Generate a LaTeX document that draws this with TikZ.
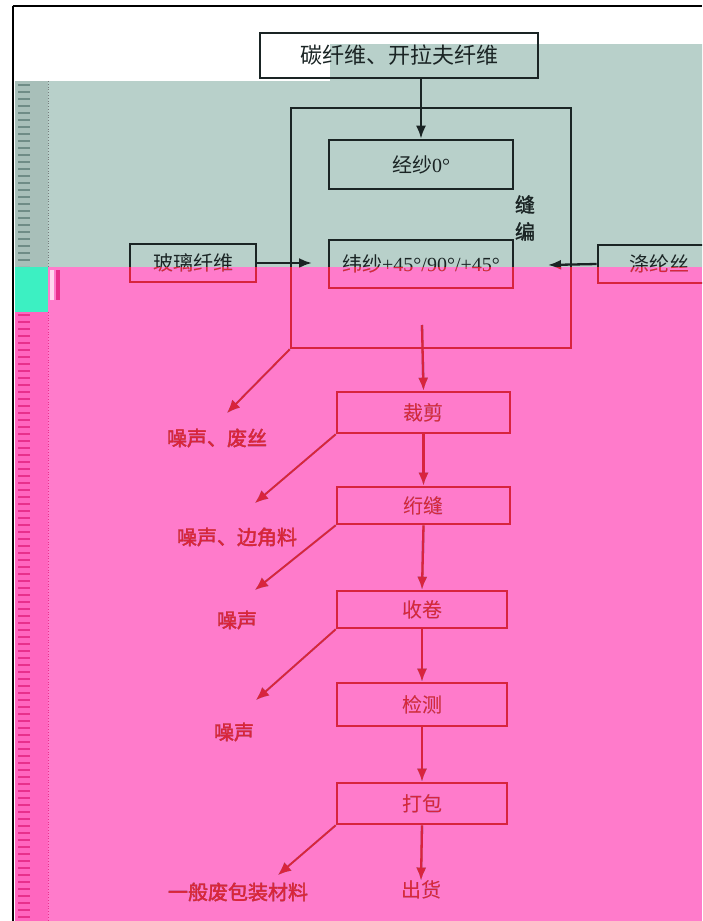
\documentclass[tikz,border=0pt]{standalone}
\usepackage{fontspec}
\setmainfont{Liberation Serif}
\newfontfamily\cjk{Noto Sans CJK SC}
\newfontfamily\cjkb[FakeBold=1.5]{Noto Sans CJK SC}
\usetikzlibrary{arrows.meta}
\definecolor{bggray}{HTML}{B8D0CA}
\definecolor{bgpink}{HTML}{FF7BCB}
\definecolor{ink}{HTML}{1A2424}
\definecolor{inkred}{HTML}{D8003E}
\definecolor{stripgray}{HTML}{A8BFB9}
\definecolor{strippink}{HTML}{FF66BF}
\definecolor{dashgray}{HTML}{6F8C86}
\definecolor{dashpink}{HTML}{E8308C}
\definecolor{glitchteal}{HTML}{3CF0C2}
\begin{document}
\begin{tikzpicture}[x=1pt,y=-1pt,
  txt/.style={font=\cjk\fontsize{20}{23}\selectfont, text=ink, inner sep=0pt},
  lbl/.style={font=\cjkb\fontsize{20}{23}\selectfont, text=ink, inner sep=0pt},
  box/.style={txt, draw=ink, line width=2.6pt},
  arr/.style={draw=ink, line width=2.3pt, -{Latex[length=13pt,width=10pt]}},
  darr/.style={draw=ink, line width=1.8pt, -{Latex[length=13pt,width=11pt]}}]
\useasboundingbox (0,0) rectangle (702,921);
\clip (0,0) rectangle (702,921);
% backgrounds
\fill[white] (0,0) rectangle (702,921);
\fill[bggray] (15,81) -- (330,81) -- (330,44) -- (702,44) -- (702,267) -- (15,267) -- cycle;
\fill[bgpink] (15,267) rectangle (702,921);
% boxes
\node[box, minimum width=278pt, minimum height=45pt, font=\cjk\fontsize{22}{24}\selectfont] (top) at (399,55.5) {碳纤维、开拉夫纤维};
\node[box, minimum width=280pt, minimum height=240pt] (big) at (431,228) {};
\node[box, minimum width=184pt, minimum height=49pt] (warp) at (421,164.5) {经纱\rmfamily 0°};
\node[box, minimum width=184pt, minimum height=48pt] (weft) at (421,264) {纬纱\rmfamily +45°/90°/+45°};
\node[box, minimum width=126pt, minimum height=38pt] (glass) at (193,263) {玻璃纤维};
\node[box, minimum width=122pt, minimum height=38pt] (poly) at (659,264) {涤纶丝};
\node[lbl, align=center, font=\cjkb\fontsize{20}{27}\selectfont] (stitch) at (525,218) {缝\\编};
\node[box, minimum width=173pt, minimum height=41pt] (cut) at (423.5,412.5) {裁剪};
\node[box, minimum width=173pt, minimum height=37pt] (quilt) at (423.5,505.5) {绗缝};
\node[box, minimum width=170pt, minimum height=37pt] (roll) at (422,609.5) {收卷};
\node[box, minimum width=170pt, minimum height=43pt] (insp) at (422,704.5) {检测};
\node[box, minimum width=170pt, minimum height=41pt] (pack) at (422,803.5) {打包};
% labels
\node[lbl] (w1) at (217,438) {噪声、废丝};
\node[lbl] (w2) at (237,537) {噪声、边角料};
\node[lbl] (w3) at (237,620) {噪声};
\node[lbl] (w4) at (234,732) {噪声};
\node[lbl] (w5) at (238,892) {一般废包装材料};
\node[txt] (ship) at (421,890) {出货};
% coordinates
\coordinate (gtip) at (312,263);
\coordinate (ptip) at (548,265);
\coordinate (bigout) at (422,325);
\coordinate (t1) at (227,413);
\coordinate (t2) at (255,503);
\coordinate (t3) at (255,590);
\coordinate (t4) at (256,700);
\coordinate (t5) at (278,875);
% connectors
\draw[arr] (top.south -| warp.north) -- (warp.north);
\draw[arr] (glass.east) -- (gtip);
\draw[arr] (poly.west) -- (ptip);
\draw[arr] (bigout) -- (cut.north);
\draw[arr] (cut.south) -- (quilt.north);
\draw[arr] (quilt.south) -- (roll.north);
\draw[arr] (roll.south) -- (insp.north);
\draw[arr] (insp.south) -- (pack.north);
\draw[arr] (pack.south) -- (ship.north);
\draw[darr] (big.south west) -- (t1);
\draw[darr] (cut.south west) -- (t2);
\draw[darr] (quilt.south west) -- (t3);
\draw[darr] (roll.south west) -- (t4);
\draw[darr] (pack.south west) -- (t5);
% recolour lower region
\fill[inkred, blend mode=lighten] (15,267) rectangle (702,921);
% left strip
\fill[stripgray] (15,81) rectangle (48,267);
\fill[strippink] (15,267) rectangle (48,921);
\draw[dashgray, line width=12pt, dash pattern=on 1.6pt off 5.4pt] (24,84) -- (24,266);
\draw[dashpink, line width=12pt, dash pattern=on 1.6pt off 5.4pt] (24,314) -- (24,921);
\fill[glitchteal] (15,267) rectangle (48,312);
\fill[white!70!bgpink] (50,270) rectangle (54,300);
\fill[dashpink] (56,270) rectangle (60,300);
\draw[ink!60, dotted, line width=0.8pt] (48,81) -- (48,267);
\draw[dashpink, dotted, line width=0.8pt] (48,312) -- (48,921);
% frame
\draw[black, line width=2pt] (12.5,6) -- (702,6);
\draw[black, line width=2pt] (12.5,6) -- (12.5,921);
\end{tikzpicture}
\end{document}
